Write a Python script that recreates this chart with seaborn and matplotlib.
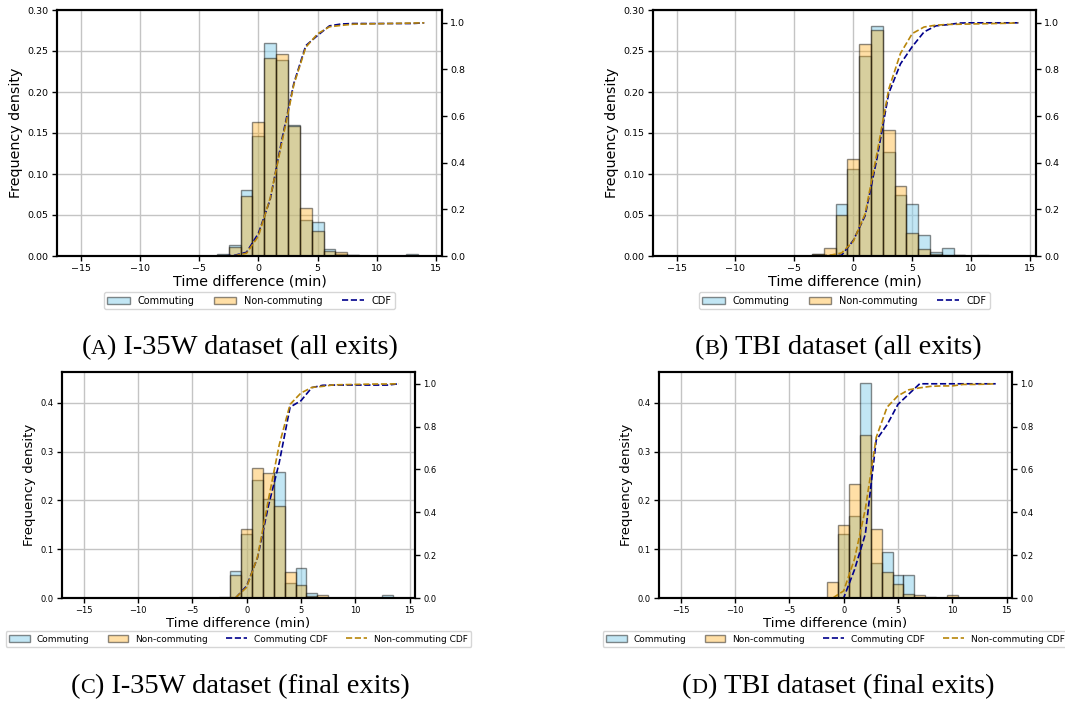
import matplotlib
matplotlib.use("Agg")
import matplotlib.pyplot as plt
import seaborn as sns
from matplotlib.patches import Patch
from matplotlib.lines import Line2D
from matplotlib.ticker import FormatStrFormatter

# ---------------- data ----------------
bin_centers = [-3, -2, -1, 0, 1, 2, 3, 4, 5, 6, 7, 8, 9, 10, 11, 12, 13]

a_commuting    = [0.003, 0.013, 0.081, 0.146, 0.260, 0.239, 0.160, 0.044, 0.041, 0.008, 0.002, 0.001, 0, 0, 0, 0, 0.003]
a_noncommuting = [0.001, 0.011, 0.073, 0.164, 0.241, 0.246, 0.159, 0.058, 0.030, 0.006, 0.005, 0.001, 0, 0, 0, 0, 0]
b_commuting    = [0.002, 0.001, 0.064, 0.106, 0.244, 0.280, 0.127, 0.074, 0.063, 0.026, 0.005, 0.010, 0.001, 0, 0.001, 0, 0]
b_noncommuting = [0.003, 0.010, 0.050, 0.118, 0.258, 0.276, 0.154, 0.085, 0.028, 0.008, 0.003, 0.001, 0.001, 0, 0, 0, 0]
c_commuting    = [0, 0.001, 0.055, 0.132, 0.241, 0.203, 0.259, 0.030, 0.061, 0.011, 0.001, 0, 0, 0, 0, 0, 0.007]
c_noncommuting = [0, 0.002, 0.048, 0.141, 0.267, 0.257, 0.189, 0.053, 0.026, 0.005, 0.007, 0.001, 0, 0, 0, 0, 0]
d_commuting    = [0, 0, 0, 0.132, 0.167, 0.440, 0.072, 0.095, 0.048, 0.048, 0, 0, 0, 0, 0, 0, 0]
d_noncommuting = [0, 0, 0.033, 0.149, 0.234, 0.334, 0.141, 0.053, 0.028, 0.009, 0.007, 0.002, 0, 0.007, 0, 0.001, 0]

cdf_x = [-14, -13, -12, -11, -10, -9, -8, -7, -6, -5, -4, -3, -2, -1, 0, 1, 2, 3,
         4, 5, 6, 7, 8, 9, 10, 11, 12, 13, 14]
Z = [0] * 11  # x = -14 .. -4
a_cdf_comm = Z + [0.0, 0.003, 0.016, 0.097, 0.243, 0.503, 0.742, 0.902, 0.946, 0.987, 0.995, 0.997, 0.997, 0.997, 0.997, 0.997, 0.997, 1.0]
a_cdf_non  = Z + [0.0, 0.001, 0.012, 0.085, 0.249, 0.490, 0.736, 0.895, 0.953, 0.983, 0.989, 0.994, 0.995, 0.996, 0.997, 0.998, 0.999, 1.0]
b_cdf_comm = Z + [0.0, 0.002, 0.003, 0.067, 0.173, 0.417, 0.697, 0.824, 0.898, 0.961, 0.987, 0.992, 0.999, 1.0, 1.0, 1.0, 1.0, 1.0]
b_cdf_non  = Z + [0.0, 0.003, 0.013, 0.063, 0.181, 0.439, 0.715, 0.869, 0.954, 0.982, 0.990, 0.993, 0.994, 0.995, 0.996, 0.997, 0.998, 1.0]
c_cdf_comm = Z + [0.0, 0.0, 0.001, 0.056, 0.188, 0.429, 0.632, 0.891, 0.921, 0.982, 0.993, 0.994, 0.994, 0.994, 0.994, 0.994, 0.994, 1.0]
c_cdf_non  = Z + [0.0, 0.0, 0.002, 0.050, 0.191, 0.458, 0.715, 0.904, 0.957, 0.983, 0.988, 0.995, 0.996, 0.997, 0.998, 0.999, 0.999, 1.0]
d_cdf_comm = Z + [0.0, 0.0, 0.0, 0.0, 0.132, 0.299, 0.737, 0.809, 0.904, 0.952, 1.0, 1.0, 1.0, 1.0, 1.0, 1.0, 1.0, 1.0]
d_cdf_non  = Z + [0.0, 0.0, 0.0, 0.033, 0.182, 0.416, 0.750, 0.891, 0.944, 0.972, 0.981, 0.988, 0.990, 0.990, 0.997, 0.997, 0.998, 1.0]

captions = [("A", " I-35W dataset (all exits)"),
            ("B", " TBI dataset (all exits)"),
            ("C", " I-35W dataset (final exits)"),
            ("D", " TBI dataset (final exits)")]

# ---------------- style ----------------
sns.set_style("ticks")
plt.rcParams["font.family"] = ["DejaVu Sans"]
plt.rcParams.update({"text.color": "black", "axes.labelcolor": "black",
                     "xtick.color": "black", "ytick.color": "black",
                     "axes.edgecolor": "black"})

W, H = 1065, 702
fig = plt.figure(figsize=(W / 100, H / 100), dpi=100)

BLUE = "#87CEEB"
ORANGE = "#FFA500"
EDGE = (0.0, 0.0, 0.0, 0.45)
CDF_BLUE = "#00008B"
CDF_GOLD = "#B8860B"


def px_axes(l, t, r, b):
    return fig.add_axes([l / W, 1 - b / H, (r - l) / W, (b - t) / H])


def panel(box, comm, non, cdf_c, cdf_n, ymax, yticks, yfmt, fs_tick, fs_label, fs_leg, four):
    ax = px_axes(*box)
    sns.histplot(x=bin_centers, weights=comm, binwidth=1, binrange=(-14.5, 14.5),
                 stat="count", facecolor=(0.529, 0.808, 0.922, 0.5), edgecolor=EDGE,
                 linewidth=1.0, ax=ax)
    sns.histplot(x=bin_centers, weights=non, binwidth=1, binrange=(-14.5, 14.5),
                 stat="count", facecolor=(1.0, 0.647, 0.0, 0.35), edgecolor=EDGE,
                 linewidth=1.0, ax=ax)
    ax.set_xlim(-17, 15.5)
    ax.set_ylim(0, ymax)
    ax.set_yticks(yticks)
    ax.yaxis.set_major_formatter(FormatStrFormatter(yfmt))
    ax.set_xticks([-15, -10, -5, 0, 5, 10, 15])
    ax.grid(True, color="#c4c4c4", linewidth=1.0)
    ax.set_axisbelow(True)
    ax.set_xlabel("Time difference (min)", fontsize=fs_label, labelpad=1)
    ax.set_ylabel("Frequency density", fontsize=fs_label, labelpad=3)
    ax.tick_params(labelsize=fs_tick, width=1, length=3.5, pad=2.5)

    ax2 = ax.twinx()
    sns.lineplot(x=cdf_x, y=cdf_c, ax=ax2, color=CDF_BLUE, linestyle="--", linewidth=1.2)
    sns.lineplot(x=cdf_x, y=cdf_n, ax=ax2, color=CDF_GOLD, linestyle="--", linewidth=1.2)
    ax2.set_ylim(0, 1.055)
    ax2.set_yticks([0.0, 0.2, 0.4, 0.6, 0.8, 1.0])
    ax2.yaxis.set_major_formatter(FormatStrFormatter("%.1f"))
    ax2.set_ylabel("")
    ax2.tick_params(labelsize=fs_tick, width=1, length=3.5, pad=2.5)
    ax2.set_xlim(-17, 15.5)

    for a in (ax, ax2):
        for s in a.spines.values():
            s.set_visible(True)
            s.set_color("black")
            s.set_linewidth(1.5)

    handles = [Patch(facecolor=(0.529, 0.808, 0.922, 0.5), edgecolor=EDGE, linewidth=1.0),
               Patch(facecolor=(1.0, 0.647, 0.0, 0.35), edgecolor=EDGE, linewidth=1.0),
               Line2D([], [], color=CDF_BLUE, linestyle="--", linewidth=1.2)]
    labels = ["Commuting", "Non-commuting"]
    if four:
        handles.append(Line2D([], [], color=CDF_GOLD, linestyle="--", linewidth=1.2))
        labels += ["Commuting CDF", "Non-commuting CDF"]
    else:
        labels += ["CDF"]
    ax2.legend(handles, labels, loc="upper center", bbox_to_anchor=(0.5, -0.128),
               ncol=len(labels), fontsize=fs_leg, frameon=True, handlelength=2.3,
               columnspacing=2.0, borderpad=0.35, handletextpad=0.8)
    return ax


panel((57, 10, 442, 256), a_commuting, a_noncommuting, a_cdf_comm, a_cdf_non,
      0.30, [0.0, 0.05, 0.10, 0.15, 0.20, 0.25, 0.30], "%.2f", 6.8, 10.3, 7.0, False)
panel((653, 10, 1036, 256), b_commuting, b_noncommuting, b_cdf_comm, b_cdf_non,
      0.30, [0.0, 0.05, 0.10, 0.15, 0.20, 0.25, 0.30], "%.2f", 6.8, 10.3, 7.0, False)
panel((62, 372, 415, 598), c_commuting, c_noncommuting, c_cdf_comm, c_cdf_non,
      0.463, [0.0, 0.1, 0.2, 0.3, 0.4], "%.1f", 6.0, 9.5, 6.5, True)
panel((659, 372, 1012, 598), d_commuting, d_noncommuting, d_cdf_comm, d_cdf_non,
      0.463, [0.0, 0.1, 0.2, 0.3, 0.4], "%.1f", 6.0, 9.5, 6.5, True)

# ---------------- captions with small-cap letter ----------------
renderer = fig.canvas.get_renderer()
CAP_FS = 20.5
SERIF = ["Liberation Serif", "DejaVu Serif"]


def caption(cx, baseline, letter, rest):
    parts = [("(", CAP_FS), (letter, CAP_FS * 0.78), (")" + rest, CAP_FS)]
    texts, widths = [], []
    for s, fs in parts:
        t = fig.text(0, 0, s, fontsize=fs, family=SERIF, va="baseline", ha="left",
                     color="black")
        widths.append(t.get_window_extent(renderer=renderer).width)
        texts.append(t)
    x = cx - sum(widths) / 2
    for t, w in zip(texts, widths):
        t.set_position((x / W, 1 - baseline / H))
        x += w


caption(240, 354, *captions[0])
caption(838, 354, *captions[1])
caption(240, 693, *captions[2])
caption(838, 693, *captions[3])

fig.savefig("out.png", dpi=100)
